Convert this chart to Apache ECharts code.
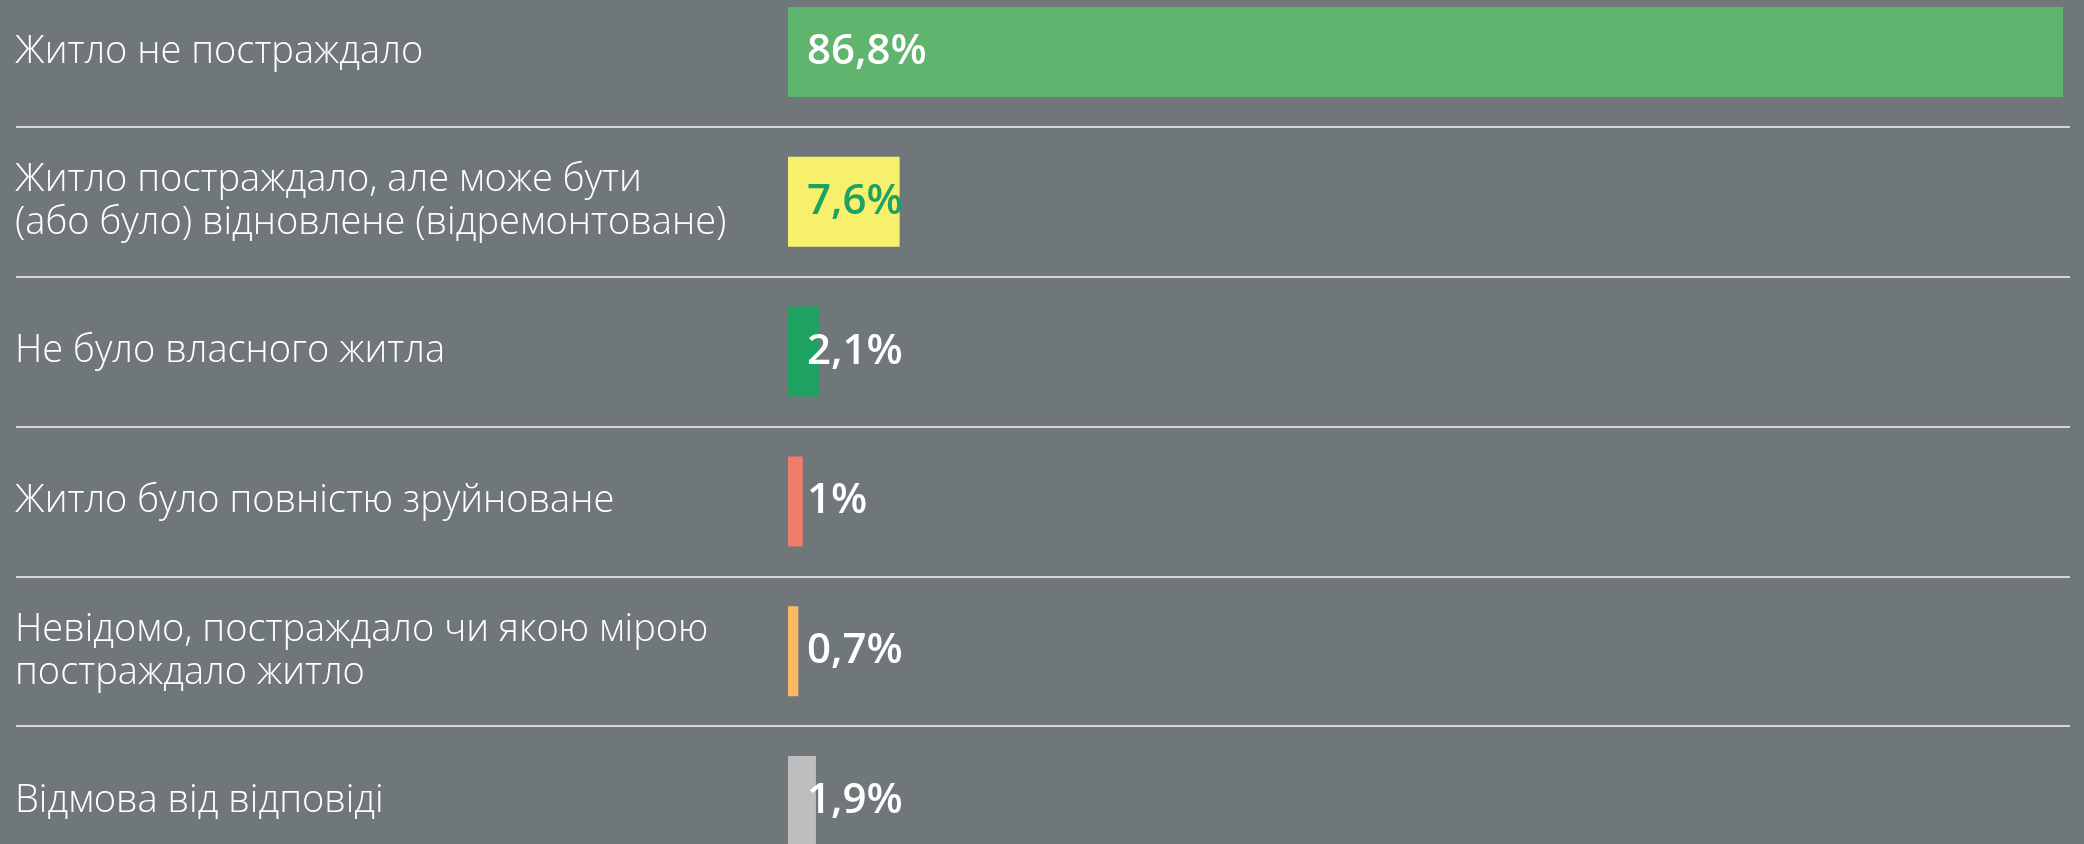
<!DOCTYPE html>
<html>
<head>
<meta charset="utf-8">
<script src="https://cdn.jsdelivr.net/npm/echarts@6/dist/echarts.min.js"></script>
<style>
  html, body { margin: 0; padding: 0; background: #70777a; }
  #chart { width: 2084px; height: 844px; }
</style>
</head>
<body>
<div id="chart"></div>
<script>
// Стан житла респондентів
const categories = [
  'Житло не постраждало',
  'Житло постраждало, але може бути\n(або було) відновлене (відремонтоване)',
  'Не було власного житла',
  'Житло було повністю зруйноване',
  'Невідомо, постраждало чи якою мірою\nпостраждало житло',
  'Відмова від відповіді'
];
const values = [86.8, 7.6, 2.1, 1, 0.7, 1.9];
const barColors = ['#5fb56d', '#f7f06d', '#1ea262', '#f07c6a', '#fdb863', '#bfbebf'];
const labelColors = ['#ffffff', '#1ea262', '#ffffff', '#ffffff', '#ffffff', '#ffffff'];

const fmt = v => String(v).replace('.', ',') + '%';

const chart = echarts.init(document.getElementById('chart'), null, { renderer: 'canvas' });

// Category bands run past the canvas edges so the last bar is cut off at the bottom
const bandTop = -23, bandBottom = -32;

chart.setOption({
  backgroundColor: '#70777a',
  animation: false,
  grid: [
    { left: 788, right: 21, top: bandTop, bottom: bandBottom, containLabel: false, outerBoundsMode: 'none' },
    { left: 16, right: 14, top: bandTop, bottom: bandBottom, containLabel: false, outerBoundsMode: 'none' }
  ],
  xAxis: [
    { type: 'value', gridIndex: 0, min: 0, max: 86.8, show: false },
    { type: 'value', gridIndex: 1, min: 0, max: 1, show: false }
  ],
  yAxis: [
    {
      type: 'category', gridIndex: 0, inverse: true, data: categories,
      axisLine: { show: false }, axisTick: { show: false }, splitLine: { show: false },
      axisLabel: {
        align: 'left', margin: 773, color: '#ffffff',
        fontFamily: '"Open Sans", sans-serif', fontWeight: 300,
        fontSize: 38, lineHeight: 43
      }
    },
    {
      type: 'category', gridIndex: 1, inverse: true, data: categories,
      axisLine: { show: false }, axisTick: { show: false }, axisLabel: { show: false },
      splitLine: { show: true, lineStyle: { color: '#d6d6d6', width: 2 } }
    }
  ],
  series: [
    {
      type: 'bar', xAxisIndex: 0, yAxisIndex: 0, barWidth: 90,
      data: values.map((v, i) => ({
        value: v,
        itemStyle: { color: barColors[i] },
        label: { color: labelColors[i] }
      })),
      label: {
        show: true, position: 'insideLeft', distance: 19,
        formatter: p => fmt(p.value),
        fontFamily: '"Open Sans", sans-serif', fontWeight: 600, fontSize: 42
      }
    }
  ]
});
</script>
</body>
</html>
